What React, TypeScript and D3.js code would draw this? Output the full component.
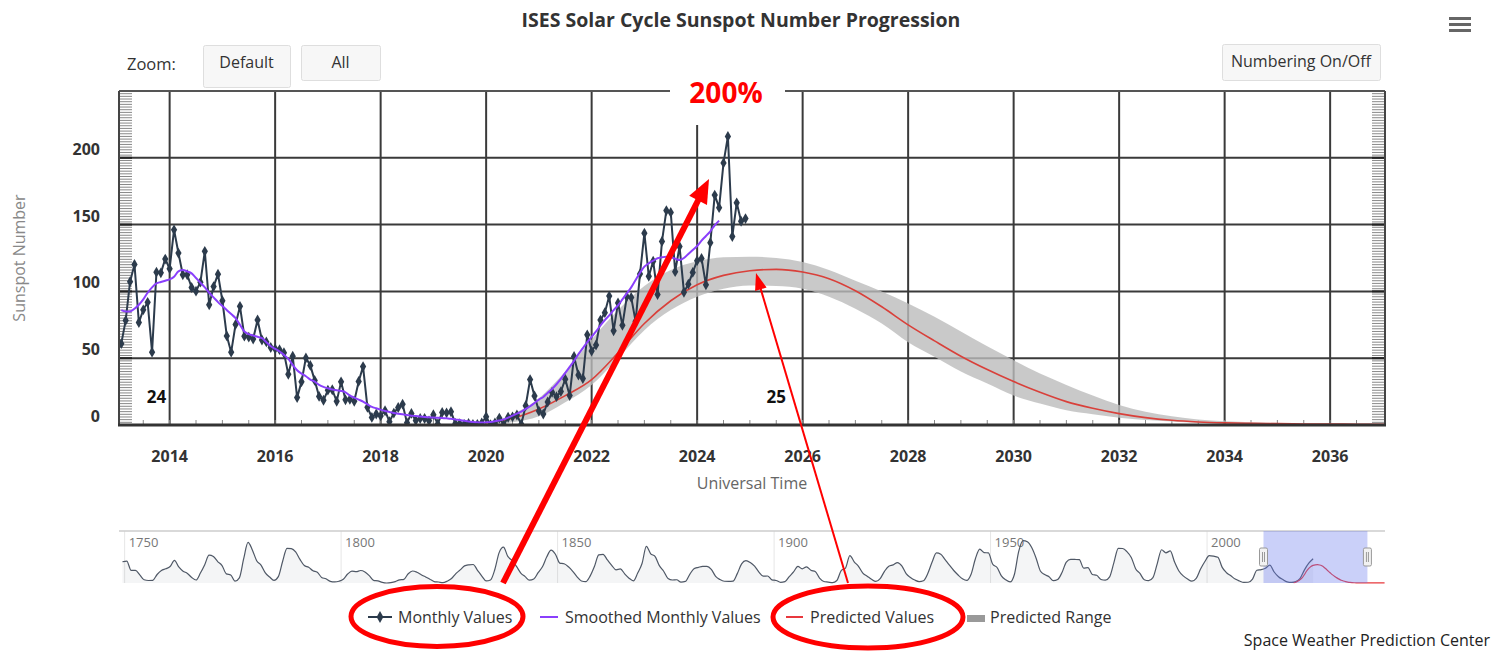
import React, { useRef, useEffect } from 'react';
import * as d3 from 'd3';

// monthly sunspot numbers, Feb 2013 .. Dec 2024
const monthlyStart = 2013 + 1 / 12;
const monthlyValues = [
    60.9, 78.3, 107.3, 120.2, 76.7, 86.2, 91.8, 54.5, 114.4, 113.9, 124.2,
    117.0, 146.1, 128.7, 112.5, 112.5, 102.9, 100.2, 106.9, 130.0, 90.0, 103.6, 112.9,
    93.0, 66.7, 54.5, 75.3, 88.8, 66.5, 65.8, 64.4, 78.6, 63.6, 62.2, 58.0,
    57.0, 56.4, 54.1, 37.9, 51.5, 20.5, 32.4, 50.2, 44.6, 33.4, 21.4, 18.5,
    26.1, 26.4, 17.7, 32.3, 18.9, 19.2, 17.8, 32.6, 43.7, 13.2, 5.7, 8.2,
    6.8, 10.7, 2.5, 8.9, 13.1, 15.6, 1.6, 8.7, 3.3, 4.9, 4.9, 3.1,
    7.7, 0.8, 9.4, 9.1, 9.9, 1.2, 0.9, 0.5, 1.1, 0.4, 0.5, 1.5,
    6.2, 0.2, 1.5, 5.2, 0.2, 5.8, 6.1, 7.5, 0.6, 14.4, 34.0, 21.8,
    10.4, 8.2, 17.2, 24.5, 21.2, 25.0, 34.3, 22.0, 51.3, 37.4, 34.8, 67.5,
    55.3, 59.9, 78.5, 84.1, 96.5, 70.5, 91.4, 74.6, 96.0, 95.5, 77.6, 113.1,
    143.6, 111.3, 122.6, 97.6, 137.4, 160.5, 159.1, 114.8, 133.6, 99.4, 105.4, 114.2,
    123.0, 124.7, 104.9, 136.5, 172.1, 162.7, 196.2, 216.0, 141.1, 166.3, 152.5, 154.5,
];

// 13-month smoothed, Feb 2013 .. Jun 2024
const smoothedValues = [
    86, 85, 85, 87, 90, 94, 99, 103, 106, 107, 108,
    109, 111, 115, 116, 115, 113.5, 110, 106.5, 103, 99, 95.5, 92,
    89, 86, 83, 80, 75, 70, 68, 67, 66, 65, 62, 59,
    57, 55, 52.5, 49.5, 45, 41, 38.5, 36.5, 34, 32.5, 30, 28.5,
    27.5, 26.5, 26, 25.5, 24.5, 22, 20.5, 19, 17.5, 15.5, 13.5, 12.5,
    11.5, 10.5, 9.8, 9, 8.5, 8, 7.5, 7, 6.7, 6.3, 6, 5.8,
    5.6, 5.4, 5.2, 5, 4.6, 4.2, 3.7, 3.2, 2.7, 2.3, 2, 1.8,
    2, 2.3, 2.8, 3.4, 4.2, 5.5, 7, 8.5, 10, 12, 14, 16.5,
    19, 21, 24, 27, 30.5, 34.5, 39, 43.5, 48, 53, 57.5, 62,
    66, 70, 74.5, 78.5, 82, 86, 89.5, 94, 98.5, 103, 108.5, 114,
    118.5, 121, 123, 124.8, 125.5, 126, 125.5, 124.5, 123.5, 125, 128, 131,
    134, 138, 141.5, 145, 149.5, 153,
];

// cycle 25 prediction, every half year from 2020.0
const predStart = 2020;
const predValues = [
    1.5, 5, 12, 22, 34, 54, 76, 93, 105, 112, 115.5, 116.5, 114.5, 109.5, 100.5, 88.5,
    75, 63, 51.5, 41.5, 32.5, 24.5, 17.5, 12.5, 8.5, 5.5, 3.5, 2.3, 1.6, 1.2, 1.0, 0.8,
    0.7, 0.6, 0.5, 0.5, 0.5, 0.5, 0.5, 0.5, 0.5, 0.5, 0.5,
];
const rangeUpper = [
    2, 8, 20, 40, 64, 86, 104, 116, 122.5, 125.5, 126, 125, 122, 116, 108, 100,
    91, 81, 70, 59, 48.5, 38.5, 30, 22, 15, 10, 6.5, 4.2, 2.8, 2, 1.5, 1.2,
    1.0, 0.9, 0.8, 0.7, 0.7, 0.7, 0.7, 0.7, 0.7, 0.7, 0.7,
];
const rangeLower = [
    0, 2, 6.5, 17, 30, 50, 71, 86, 96, 102, 104.5, 104, 102, 96, 87, 76,
    62, 51, 40, 31, 22, 16, 11, 8, 5.5, 3.8, 2.6, 1.7, 1.1, 0.7, 0.5, 0.4,
    0.4, 0.3, 0.3, 0.3, 0.3, 0.3, 0.3, 0.3, 0.3, 0.3, 0.3,
];

// yearly means for the navigator, 1749 .. 2024
const navStart = 1749;
const navValues = [
    134.7, 139.0, 79.5, 79.7, 51.2, 20.3, 16.0, 17.0, 54.0, 79.3, 90.0, 104.8, 143.2, 102.0, 75.2, 60.7,
    34.8, 19.0, 63.0, 116.3, 176.8, 168.0, 136.0, 110.8, 58.0, 51.0, 11.7, 33.0, 154.2, 257.3, 209.8, 141.3,
    113.5, 64.2, 38.0, 17.0, 40.2, 138.2, 220.0, 218.2, 196.8, 149.8, 111.0, 100.0, 78.2, 68.3, 35.5, 26.7,
    10.7, 6.8, 11.3, 24.2, 56.7, 75.0, 71.8, 79.2, 70.3, 46.8, 16.8, 13.5, 4.2, 0.0, 2.3, 8.3,
    20.3, 23.2, 59.0, 76.3, 68.3, 52.9, 38.5, 24.2, 9.2, 6.3, 2.2, 11.4, 28.2, 59.9, 83.0, 108.5,
    115.2, 117.4, 80.8, 44.3, 13.4, 19.5, 85.8, 192.9, 227.3, 168.7, 143.0, 105.5, 63.3, 40.3, 18.1, 25.1,
    65.8, 102.7, 166.3, 208.3, 182.5, 126.3, 122.0, 102.7, 74.1, 39.0, 12.7, 8.2, 43.4, 104.4, 178.3, 182.2,
    146.6, 112.1, 83.5, 89.2, 57.8, 30.7, 13.9, 62.8, 123.6, 232.0, 185.3, 169.2, 110.1, 74.5, 28.3, 18.9,
    20.7, 5.7, 10.0, 53.7, 90.5, 99.0, 106.1, 105.8, 86.3, 42.4, 21.8, 11.2, 10.4, 11.8, 59.5, 121.7,
    142.0, 130.0, 106.6, 69.4, 43.8, 44.4, 20.2, 15.7, 4.6, 8.5, 40.8, 70.1, 105.5, 90.1, 102.8, 80.9,
    73.2, 30.9, 9.5, 6.0, 2.4, 16.1, 79.0, 95.0, 173.6, 134.6, 105.7, 62.7, 43.5, 23.7, 9.7, 27.9,
    74.0, 106.5, 114.7, 129.7, 108.2, 59.4, 35.1, 18.6, 9.2, 14.6, 60.2, 132.8, 190.6, 182.6, 148.0, 113.0,
    79.2, 50.8, 27.1, 16.1, 55.3, 154.3, 214.7, 193.0, 190.7, 118.9, 98.3, 45.0, 20.1, 6.6, 54.2, 200.7,
    269.3, 261.7, 225.1, 159.0, 76.4, 53.4, 39.9, 15.0, 22.0, 66.8, 132.9, 150.0, 149.4, 148.0, 94.4, 97.6,
    54.1, 49.2, 22.5, 18.4, 39.3, 131.0, 220.1, 218.9, 198.9, 162.4, 91.0, 60.5, 20.6, 14.8, 33.9, 123.0,
    211.1, 191.8, 203.3, 133.0, 76.1, 44.9, 25.1, 11.6, 28.9, 88.3, 136.3, 173.9, 170.4, 163.6, 99.3, 65.3,
    45.8, 24.7, 12.6, 4.2, 4.8, 24.9, 80.8, 84.5, 94.0, 113.3, 69.8, 39.8, 21.7, 7.0, 3.6, 8.8,
    29.6, 83.2, 125.5, 154.0,
];

const xTicks = [2014, 2016, 2018, 2020, 2022, 2024, 2026, 2028, 2030, 2032, 2034, 2036];
const yTicks = [0, 50, 100, 150, 200];
const navTicks = [1750, 1800, 1850, 1900, 1950, 2000];
const cycleLabels = [{ text: '24', year: 2013.75, value: 20 }, { text: '25', year: 2025.5, value: 20 }];

const FONT = "'Open Sans', 'Noto Sans', sans-serif";
const W = 1494;
const H = 653;

type Pt = { t: number; v: number };

const App: React.FC = () => {
    const svgRef = useRef<SVGSVGElement | null>(null);

    useEffect(() => {
        if (!svgRef.current) return;
        const svg = d3.select(svgRef.current);
        svg.selectAll('*').remove();

        const plot = { left: 119, right: 1385, top: 91, bottom: 425 };
        const nav = { top: 531, bottom: 583 };

        const x = d3.scaleLinear().domain([2013.04, 2037.04]).range([plot.left, plot.right]);
        const y = d3.scaleLinear().domain([0, 250]).range([plot.bottom, plot.top]);

        const monthly: Pt[] = monthlyValues.map((v, i) => ({ t: monthlyStart + i / 12, v }));
        const smoothed: Pt[] = smoothedValues.map((v, i) => ({ t: monthlyStart + i / 12, v }));
        const pred: Pt[] = predValues.map((v, i) => ({ t: predStart + i * 0.5, v }));
        const band = rangeUpper.map((u, i) => ({ t: predStart + i * 0.5, hi: u, lo: rangeLower[i] }));

        svg.append('rect').attr('width', W).attr('height', H).attr('fill', '#fff');

        // title and controls
        svg.append('text').attr('x', 741).attr('y', 27).attr('text-anchor', 'middle')
            .attr('font-family', FONT).attr('font-size', 19.5).attr('font-weight', 700).attr('fill', '#333')
            .text('ISES Solar Cycle Sunspot Number Progression');

        [17, 23, 29].forEach((yy) => {
            svg.append('rect').attr('x', 1449).attr('y', yy).attr('width', 22).attr('height', 3).attr('fill', '#666');
        });

        svg.append('text').attr('x', 127).attr('y', 70).attr('font-family', FONT).attr('font-size', 16.5)
            .attr('fill', '#333').text('Zoom:');
        const buttons = [
            { label: 'Default', x: 203, y: 45, w: 87, h: 42 },
            { label: 'All', x: 301, y: 45, w: 79, h: 35 },
            { label: 'Numbering On/Off', x: 1222, y: 44, w: 158, h: 36 },
        ];
        buttons.forEach((b) => {
            svg.append('rect').attr('x', b.x + 0.5).attr('y', b.y + 0.5).attr('width', b.w).attr('height', b.h)
                .attr('rx', 2).attr('fill', '#f7f7f7').attr('stroke', '#dedede');
            svg.append('text').attr('x', b.x + b.w / 2).attr('y', b.y + 23).attr('text-anchor', 'middle')
                .attr('font-family', FONT).attr('font-size', 16).attr('fill', '#333').text(b.label);
        });

        // grid
        const g = svg.append('g');
        yTicks.filter((t) => t > 0).forEach((t) => {
            g.append('line').attr('x1', plot.left).attr('x2', plot.right).attr('y1', y(t)).attr('y2', y(t))
                .attr('stroke', '#3a3a3a').attr('stroke-width', 2);
        });
        xTicks.forEach((t) => {
            g.append('line').attr('x1', x(t)).attr('x2', x(t)).attr('y1', plot.top).attr('y2', plot.bottom)
                .attr('stroke', '#3a3a3a').attr('stroke-width', 2);
        });

        // minor ticks on left / right / bottom
        d3.range(0, 251, 2).forEach((t) => {
            const major = t % 50 === 0;
            g.append('line').attr('x1', plot.left).attr('x2', plot.left + 13).attr('y1', y(t)).attr('y2', y(t))
                .attr('stroke', major ? '#222' : '#888').attr('stroke-width', major ? 2 : 1);
            g.append('line').attr('x1', plot.right - 13).attr('x2', plot.right).attr('y1', y(t)).attr('y2', y(t))
                .attr('stroke', major ? '#222' : '#888').attr('stroke-width', major ? 2 : 1);
        });
        d3.range(2013.5, 2037, 0.5).forEach((t) => {
            g.append('line').attr('x1', x(t)).attr('x2', x(t)).attr('y1', plot.bottom - 5).attr('y2', plot.bottom)
                .attr('stroke', '#888').attr('stroke-width', 1);
        });

        // clip for series
        svg.append('defs').append('clipPath').attr('id', 'plotClip').append('rect')
            .attr('x', plot.left).attr('y', plot.top - 20).attr('width', plot.right - plot.left)
            .attr('height', plot.bottom - plot.top + 20);
        const s = svg.append('g').attr('clip-path', 'url(#plotClip)');

        const area = d3.area<{ t: number; hi: number; lo: number }>()
            .x((d) => x(d.t)).y0((d) => y(d.lo)).y1((d) => y(d.hi)).curve(d3.curveMonotoneX);
        s.append('path').datum(band).attr('d', area).attr('fill', '#bbbbbb').attr('opacity', 0.8);

        const line = d3.line<Pt>().x((d) => x(d.t)).y((d) => y(d.v));
        s.append('path').datum(pred).attr('d', line.curve(d3.curveMonotoneX))
            .attr('fill', 'none').attr('stroke', '#d9403a').attr('stroke-width', 1.6);

        const line2 = d3.line<Pt>().x((d) => x(d.t)).y((d) => y(d.v));
        s.append('path').datum(monthly).attr('d', line2).attr('fill', 'none')
            .attr('stroke', '#2c3b4c').attr('stroke-width', 2);
        const marker = d3.symbol().type(d3.symbolDiamond).size(34);
        s.selectAll('path.mk').data(monthly).enter().append('path').attr('class', 'mk')
            .attr('d', marker).attr('transform', (d) => `translate(${x(d.t)},${y(d.v)})`).attr('fill', '#2c3b4c');

        s.append('path').datum(smoothed).attr('d', line2.curve(d3.curveMonotoneX)).attr('fill', 'none')
            .attr('stroke', '#8a3ffc').attr('stroke-width', 2);

        // frame
        g.append('line').attr('x1', plot.left).attr('x2', plot.right).attr('y1', plot.top).attr('y2', plot.top)
            .attr('stroke', '#555').attr('stroke-width', 2);
        svg.append('line').attr('x1', plot.left).attr('x2', plot.left).attr('y1', plot.top).attr('y2', plot.bottom)
            .attr('stroke', '#444').attr('stroke-width', 2);
        svg.append('line').attr('x1', plot.right).attr('x2', plot.right).attr('y1', plot.top).attr('y2', plot.bottom)
            .attr('stroke', '#444').attr('stroke-width', 2);
        svg.append('line').attr('x1', plot.left - 1).attr('x2', plot.right + 1).attr('y1', plot.bottom).attr('y2', plot.bottom)
            .attr('stroke', '#333').attr('stroke-width', 3);

        // axis labels
        xTicks.forEach((t) => {
            svg.append('text').attr('x', x(t)).attr('y', 462).attr('text-anchor', 'middle')
                .attr('font-family', FONT).attr('font-size', 16).attr('font-weight', 700).attr('fill', '#333')
                .text(String(t));
        });
        yTicks.forEach((t) => {
            svg.append('text').attr('x', 100).attr('y', y(t) - 3).attr('text-anchor', 'end')
                .attr('font-family', FONT).attr('font-size', 16).attr('font-weight', 700).attr('fill', '#333')
                .text(String(t));
        });
        svg.append('text').attr('x', 752).attr('y', 489).attr('text-anchor', 'middle')
            .attr('font-family', FONT).attr('font-size', 16).attr('fill', '#666').text('Universal Time');
        svg.append('text').attr('transform', 'translate(25,258) rotate(-90)').attr('text-anchor', 'middle')
            .attr('font-family', FONT).attr('font-size', 16).attr('fill', '#888').text('Sunspot Number');

        cycleLabels.forEach((c) => {
            svg.append('text').attr('x', x(c.year)).attr('y', y(c.value) + 5).attr('text-anchor', 'middle')
                .attr('font-family', FONT).attr('font-size', 17).attr('font-weight', 700).attr('fill', '#111')
                .text(c.text);
        });

        // navigator
        const xn = d3.scaleLinear().domain([1748.7, 2041.1]).range([plot.left, plot.right]);
        const yn = d3.scaleLinear().domain([0, 330]).range([nav.bottom, nav.top]);
        navTicks.forEach((t) => {
            svg.append('line').attr('x1', xn(t)).attr('x2', xn(t)).attr('y1', nav.top).attr('y2', nav.bottom)
                .attr('stroke', '#e6e6e6').attr('stroke-width', 1);
            svg.append('text').attr('x', xn(t) + 4).attr('y', nav.top + 16).attr('font-family', FONT)
                .attr('font-size', 13).attr('fill', '#777').text(String(t));
        });
        const navPts: Pt[] = navValues.map((v, i) => ({ t: navStart + i + 0.5, v }));
        const navArea = d3.area<Pt>().x((d) => xn(d.t)).y0(nav.bottom).y1((d) => yn(d.v)).curve(d3.curveMonotoneX);
        svg.append('path').datum(navPts).attr('d', navArea).attr('fill', '#435367').attr('opacity', 0.06);
        const navLine = d3.line<Pt>().x((d) => xn(d.t)).y((d) => yn(d.v)).curve(d3.curveMonotoneX);
        svg.append('path').datum(navPts).attr('d', navLine).attr('fill', 'none')
            .attr('stroke', '#4f5866').attr('stroke-width', 1.2);
        svg.append('path').datum(pred).attr('d', navLine).attr('fill', 'none')
            .attr('stroke', '#e8383d').attr('stroke-width', 1.2);
        svg.append('line').attr('x1', plot.left).attr('x2', plot.right).attr('y1', nav.top).attr('y2', nav.top)
            .attr('stroke', '#ccc').attr('stroke-width', 1.5);
        const selA = xn(2013.04);
        const selB = xn(2037.04);
        svg.append('rect').attr('x', selA).attr('y', nav.top).attr('width', selB - selA)
            .attr('height', nav.bottom - nav.top).attr('fill', '#6677ee').attr('opacity', 0.35);
        [selA, selB].forEach((hx) => {
            svg.append('rect').attr('x', hx - 4).attr('y', 548).attr('width', 8).attr('height', 18).attr('rx', 1.5)
                .attr('fill', '#f2f2f2').attr('stroke', '#999');
            svg.append('line').attr('x1', hx - 1).attr('x2', hx - 1).attr('y1', 552).attr('y2', 562).attr('stroke', '#999');
            svg.append('line').attr('x1', hx + 1).attr('x2', hx + 1).attr('y1', 552).attr('y2', 562).attr('stroke', '#999');
        });

        // legend
        const ly = 617;
        const lg = svg.append('g').attr('font-family', FONT).attr('font-size', 16).attr('fill', '#333');
        lg.append('line').attr('x1', 368).attr('x2', 392).attr('y1', ly).attr('y2', ly).attr('stroke', '#2c3b4c').attr('stroke-width', 2);
        lg.append('path').attr('d', d3.symbol().type(d3.symbolDiamond).size(40)()).attr('transform', `translate(380,${ly})`).attr('fill', '#2c3b4c');
        lg.append('text').attr('x', 398).attr('y', ly + 6).text('Monthly Values');
        lg.append('line').attr('x1', 540).attr('x2', 558).attr('y1', ly).attr('y2', ly).attr('stroke', '#8a3ffc').attr('stroke-width', 2);
        lg.append('text').attr('x', 565).attr('y', ly + 6).text('Smoothed Monthly Values');
        lg.append('line').attr('x1', 786).attr('x2', 803).attr('y1', ly).attr('y2', ly).attr('stroke', '#e8383d').attr('stroke-width', 2);
        lg.append('text').attr('x', 810).attr('y', ly + 6).text('Predicted Values');
        lg.append('rect').attr('x', 967).attr('y', ly - 2).attr('width', 18).attr('height', 7).attr('fill', '#999');
        lg.append('text').attr('x', 990).attr('y', ly + 6).text('Predicted Range');

        svg.append('text').attr('x', 1490).attr('y', 646).attr('text-anchor', 'end').attr('font-family', FONT)
            .attr('font-size', 16).attr('fill', '#222').text('Space Weather Prediction Center');

        // annotations
        svg.append('rect').attr('x', 670).attr('y', 78).attr('width', 115).attr('height', 47).attr('fill', '#fff');
        svg.append('text').attr('x', 726).attr('y', 103).attr('text-anchor', 'middle').attr('font-family', FONT)
            .attr('font-size', 28).attr('font-weight', 700).attr('fill', '#ff0000').text('200%');

        const arrow = (x0: number, y0: number, x1: number, y1: number, w: number, hl: number, hw: number) => {
            const dx = x1 - x0;
            const dy = y1 - y0;
            const len = Math.hypot(dx, dy);
            const ux = dx / len;
            const uy = dy / len;
            const bx = x1 - ux * hl;
            const by = y1 - uy * hl;
            svg.append('line').attr('x1', x0).attr('y1', y0).attr('x2', bx + ux * 2).attr('y2', by + uy * 2)
                .attr('stroke', '#ff0000').attr('stroke-width', w);
            svg.append('path').attr('d', `M${x1},${y1}L${bx - uy * hw},${by + ux * hw}L${bx + uy * hw},${by - ux * hw}Z`)
                .attr('fill', '#ff0000');
        };
        arrow(503, 583, 709, 179, 6, 24, 10);
        arrow(848, 583, 756, 273, 2, 17, 6);

        svg.append('ellipse').attr('cx', 437).attr('cy', 616.5).attr('rx', 86).attr('ry', 30)
            .attr('fill', 'none').attr('stroke', '#ff0000').attr('stroke-width', 5);
        svg.append('ellipse').attr('cx', 868).attr('cy', 617).attr('rx', 95).attr('ry', 31)
            .attr('fill', 'none').attr('stroke', '#ff0000').attr('stroke-width', 5);
    }, []);

    return (
        <svg ref={svgRef} width={W} height={H} style={{ position: 'absolute', left: 0, top: 0 }} />
    );
};

export default App;
